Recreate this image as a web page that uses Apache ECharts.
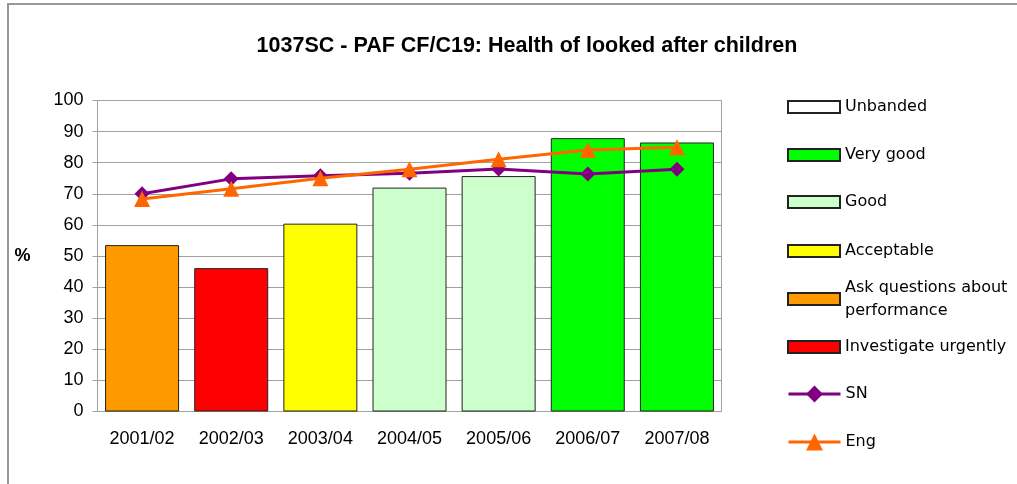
<!DOCTYPE html>
<html>
<head>
<meta charset="utf-8">
<title>1037SC - PAF CF/C19</title>
<script src="https://cdn.jsdelivr.net/npm/echarts@6/dist/echarts.min.js"></script>
<style>
  html, body { margin: 0; padding: 0; background: #fff; }
  #chart { width: 1017px; height: 484px; }
</style>
</head>
<body>
<div id="chart"></div>
<script>
(function () {
  'use strict';

  const categories = ['2001/02', '2002/03', '2003/04', '2004/05', '2005/06', '2006/07', '2007/08'];
  const pafValues = [53.5, 46.1, 60.4, 72.0, 75.7, 87.9, 86.5];
  const pafBands = ['Ask questions about performance', 'Investigate urgently', 'Acceptable', 'Good', 'Good', 'Very good', 'Very good'];
  const snValues = [70.0, 74.8, 75.8, 76.6, 78.0, 76.4, 77.9];
  const engValues = [68.3, 71.6, 75.0, 77.9, 81.1, 84.1, 85.0];

  const bandNames = ['Unbanded', 'Very good', 'Good', 'Acceptable', 'Ask questions about performance', 'Investigate urgently'];
  const bandColors = ['#ffffff', '#00ff00', '#ccffcc', '#ffff00', '#ff9900', '#ff0000'];
  const yTicks = { min: 0, max: 100, interval: 10 };

  const chart = echarts.init(document.getElementById('chart'));

  const bandSeries = bandNames.map((name, k) => ({
    name: name,
    type: 'bar',
    stack: 'paf',
    barWidth: '83%',
    itemStyle: { color: bandColors[k], borderColor: '#222', borderWidth: 1 },
    data: pafValues.map((v, i) => (pafBands[i] === name ? v : '-')),
    z: 2
  }));

  const lineSeries = [
    {
      name: 'SN', type: 'line', data: snValues,
      symbol: 'diamond', symbolSize: 15,
      lineStyle: { color: '#800080', width: 3 },
      itemStyle: { color: '#800080' },
      z: 4
    },
    {
      name: 'Eng', type: 'line', data: engValues,
      symbol: 'triangle', symbolSize: 16,
      lineStyle: { color: '#ff6600', width: 3 },
      itemStyle: { color: '#ff6600' },
      z: 5
    }
  ];

  // legend rows: [name, centre y]
  const legendRows = [
    ['Unbanded', 107], ['Very good', 155], ['Good', 202], ['Acceptable', 251],
    ['Ask questions about performance', 299], ['Investigate urgently', 347],
    ['SN', 394], ['Eng', 442]
  ];
  const LH = 23;
  const legends = legendRows.map(([name, cy]) => {
    const twoLine = name === 'Ask questions about performance';
    const isLine = name === 'SN' || name === 'Eng';
    const leg = {
      left: 787,
      top: twoLine ? cy - LH * 1.5 : cy - LH / 2,
      orient: 'vertical',
      itemWidth: 52,
      itemHeight: isLine ? 21 : 12,
      itemGap: 0,
      padding: 0,
      selectedMode: false,
      data: [name],
      formatter: twoLine ? 'Ask questions about\nperformance' : '{name}',
      textStyle: {
        fontFamily: 'DejaVu Sans', fontSize: 16, color: '#000', lineHeight: LH,
        padding: twoLine ? [LH, 0, 0, 0] : 0
      }
    };
    if (isLine) {
      leg.lineStyle = { width: 3 };
    } else {
      leg.icon = 'rect';
    }
    return leg;
  });

  chart.setOption({
    animation: false,
    backgroundColor: '#fff',
    title: {
      text: '1037SC - PAF CF/C19: Health of looked after children',
      left: 522, top: 30, textAlign: 'center',
      textStyle: { fontFamily: 'Liberation Sans, Arial', fontSize: 21.5, fontWeight: 'bold', color: '#000' }
    },
    graphic: [{
      type: 'rect', silent: true,
      shape: { x: 8, y: 4, width: 1100, height: 600 },
      style: { fill: 'none', stroke: '#999', lineWidth: 2 }
    }],
    legend: legends,
    grid: { left: 97.5, right: 295.5, top: 100.5, bottom: 72.5, show: true, borderColor: '#a0a0a0', borderWidth: 1 },
    xAxis: {
      type: 'category',
      data: categories,
      axisLine: { lineStyle: { color: '#a0a0a0' } },
      axisTick: { length: 5, lineStyle: { color: '#a0a0a0' } },
      axisLabel: { fontFamily: 'Liberation Sans, Arial', fontSize: 18, color: '#000', margin: 19 }
    },
    yAxis: {
      type: 'value',
      min: yTicks.min, max: yTicks.max, interval: yTicks.interval,
      name: '%', nameLocation: 'middle', nameRotate: 0, nameGap: 67,
      nameTextStyle: { fontFamily: 'Liberation Sans, Arial', fontSize: 18, fontWeight: 'bold', color: '#000' },
      axisLine: { show: true, lineStyle: { color: '#a0a0a0' } },
      axisTick: { show: true, length: 5, lineStyle: { color: '#a0a0a0' } },
      splitLine: { lineStyle: { color: '#a0a0a0' } },
      axisLabel: { fontFamily: 'Liberation Sans, Arial', fontSize: 18, color: '#000', margin: 14 }
    },
    series: bandSeries.concat(lineSeries)
  });

  window.addEventListener('resize', () => chart.resize());
})();
</script>
</body>
</html>
